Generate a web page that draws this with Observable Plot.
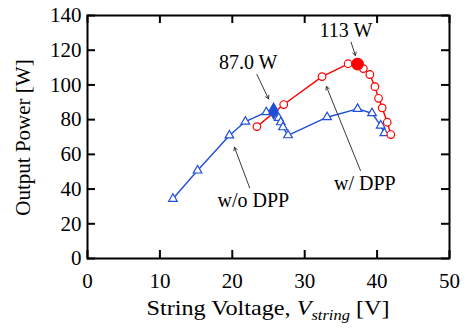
<!DOCTYPE html>
<html>
<head>
<meta charset="utf-8">
<script src="https://cdn.jsdelivr.net/npm/d3@7"></script>
<script src="https://cdn.jsdelivr.net/npm/@observablehq/plot@0.6"></script>
<style>
  html, body { margin: 0; padding: 0; background: #fff; }
  #chart svg { display: block; }
</style>
</head>
<body>
<div id="chart"></div>
<script>
// w/ DPP (red circles)
const dppV = [23.4, 27.1, 32.4, 36.0, 37.3, 38.1, 39.0, 39.7, 40.2, 40.7, 41.4, 41.9];
const dppP = [76.0, 88.7, 104.8, 112.2, 112.0, 109.4, 106.0, 99.0, 92.3, 86.8, 78.5, 71.4];
// w/o DPP (blue triangles)
const noV = [11.8, 15.2, 19.6, 21.8, 24.7, 25.7, 26.4, 26.7, 27.0, 27.7, 33.1, 37.3, 39.3, 40.5, 41.0];
const noP = [34.4, 50.7, 70.9, 78.9, 84.3, 85.0, 81.0, 78.5, 75.6, 71.0, 81.4, 86.2, 83.7, 76.6, 72.2];
// maximum power points
const mppDppIndex = 4;
const mppNoIndex = 5;
// annotations
const annoText = ["87.0 W", "113 W", "w/o DPP", "w/ DPP"];
const annoTx = [22.2, 35.7, 22.9, 38.3];
const annoTy = [112.9, 131.4, 33.4, 43.2];
const arrowX1 = [23.4, 36.4, 22.4, 37.7];
const arrowY1 = [106.0, 124.6, 40.7, 50.7];
const arrowX2 = [25.0, 37.0, 20.3, 33.0];
const arrowY2 = [92.0, 117.0, 64.1, 99.1];
// ticks
const xTicks = [0, 10, 20, 30, 40, 50];
const yTicks = [0, 20, 40, 60, 80, 100, 120, 140];

const red = "#ff0000";
const blue = "#1f4fd8";
const serif = "'Liberation Serif', 'Times New Roman', serif";

const dpp = dppV.map((v, i) => ({v, p: dppP[i]}));
const nodpp = noV.map((v, i) => ({v, p: noP[i]}));
const anno = annoText.map((t, i) => ({t, x: annoTx[i], y: annoTy[i], x1: arrowX1[i], y1: arrowY1[i], x2: arrowX2[i], y2: arrowY2[i]}));

const W = 472, H = 330;
const mL = 87, mR = 23, mT = 15, mB = 72;
const innerH = H - mT - mB, innerW = W - mL - mR;
const tl = 8;

const chart = Plot.plot({
  width: W,
  height: H,
  marginLeft: mL,
  marginRight: mR,
  marginTop: mT,
  marginBottom: mB,
  style: {fontSize: "21px", color: "#000", background: "#fff"},
  x: {domain: [0, 50]},
  y: {domain: [0, 140]},
  marks: [
    Plot.axisX(xTicks, {tickSize: 0, tickPadding: 15, fontSize: 21, label: null}),
    Plot.axisY(yTicks, {tickSize: 0, tickPadding: 6, fontSize: 21, label: null}),
    Plot.tickX(xTicks, {x: d => d, insetTop: innerH - tl, stroke: "#000", strokeWidth: 2}),
    Plot.tickX(xTicks, {x: d => d, insetBottom: innerH - tl, stroke: "#000", strokeWidth: 2}),
    Plot.tickY(yTicks, {y: d => d, insetRight: innerW - tl, stroke: "#000", strokeWidth: 2}),
    Plot.tickY(yTicks, {y: d => d, insetLeft: innerW - tl, stroke: "#000", strokeWidth: 2}),
    Plot.line(nodpp, {x: "v", y: "p", stroke: blue, strokeWidth: 1.4}),
    Plot.line(dpp, {x: "v", y: "p", stroke: red, strokeWidth: 1.4}),
    Plot.dot(nodpp, {x: "v", y: "p", symbol: "triangle", r: 3.2, stroke: blue, fill: "white", strokeWidth: 1.2}),
    Plot.dot(dpp, {x: "v", y: "p", symbol: "circle", r: 3.8, stroke: red, fill: "white", strokeWidth: 1.2}),
    Plot.dot([nodpp[mppNoIndex]], {x: "v", y: "p", symbol: "diamond", r: 4.6, fill: blue, stroke: blue}),
    Plot.dot([dpp[mppDppIndex]], {x: "v", y: "p", symbol: "circle", r: 5.6, fill: red, stroke: red}),
    Plot.arrow(anno, {x1: "x1", y1: "y1", x2: "x2", y2: "y2", stroke: "#222", strokeWidth: 0.9, headLength: 6}),
    Plot.text(anno, {x: "x", y: "y", text: "t", fontSize: 20, fill: "#000"}),
    Plot.frame({stroke: "#000", strokeWidth: 2})
  ]
});

const svg = d3.select(chart);
// x-axis title with italic V and subscript
const xt = svg.append("text")
  .attr("x", mL + innerW / 2)
  .attr("y", 315)
  .attr("text-anchor", "middle")
  .attr("font-size", 22)
  .attr("textLength", 243)
  .attr("lengthAdjust", "spacingAndGlyphs")
  .attr("fill", "#000");
xt.append("tspan").text("String Voltage, ");
xt.append("tspan").attr("font-style", "italic").text("V");
xt.append("tspan").attr("font-style", "italic").attr("font-size", 15).attr("dy", 5).text("string");
xt.append("tspan").attr("dy", -5).text(" [V]");
// y-axis title
svg.append("text")
  .attr("transform", `translate(30,${mT + innerH / 2 + 1}) rotate(-90)`)
  .attr("text-anchor", "middle")
  .attr("font-size", 21)
  .attr("fill", "#000")
  .text("Output Power [W]");

// force serif font on every text element
svg.style("font-family", serif);
svg.selectAll("g").style("font-family", serif);
svg.selectAll("text").style("font-family", serif).style("font-variant", "normal");

document.getElementById("chart").appendChild(chart);
</script>
</body>
</html>
